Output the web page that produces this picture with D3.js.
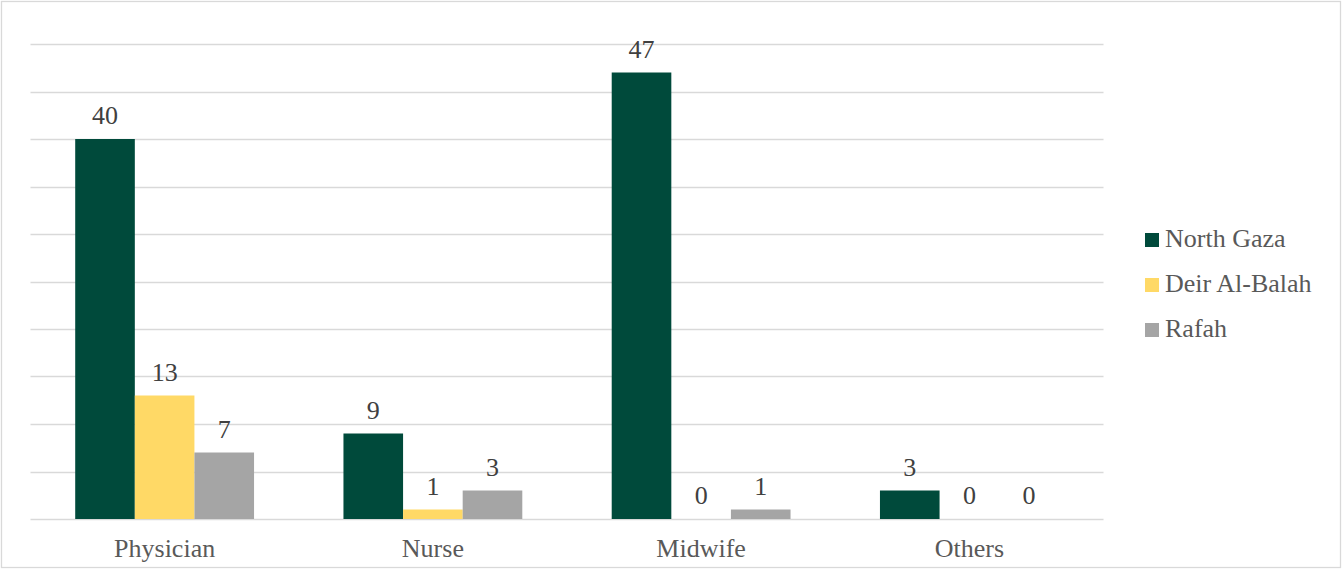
<!DOCTYPE html>
<html>
<head>
<meta charset="utf-8">
<script src="https://cdn.jsdelivr.net/npm/d3@7"></script>
<style>
  html, body { margin: 0; padding: 0; background: #fff; }
  svg { display: block; }
</style>
</head>
<body>
<svg id="chart" width="1342" height="570" font-family="Liberation Serif"></svg>
<script>
// Staff categories and counts per governorate
const categories = ["Physician", "Nurse", "Midwife", "Others"];
const seriesNames = ["North Gaza", "Deir Al-Balah", "Rafah"];
const northGaza = [40, 9, 47, 3];
const deirAlBalah = [13, 1, 0, 0];
const rafah = [7, 3, 1, 0];
const yTicks = [0, 5, 10, 15, 20, 25, 30, 35, 40, 45, 50];
const colors = ["#004A3B", "#FFD966", "#A5A5A5"];

const seriesValues = [northGaza, deirAlBalah, rafah];

const svg = d3.select("#chart");
const W = 1342, H = 570;

// Outer chart frame
svg.append("rect")
  .attr("x", 1.5).attr("y", 1.5)
  .attr("width", W - 3).attr("height", H - 4)
  .attr("fill", "#fff")
  .attr("stroke", "#d9d9d9").attr("stroke-width", 1.3);

const plot = { left: 30.5, right: 1103.5, top: 44, bottom: 519 };

const x0 = d3.scaleBand()
  .domain(categories)
  .range([plot.left, plot.right])
  .paddingInner(0).paddingOuter(0);

// Bars take 3/4.5 of each group (150% gap)
const groupW = x0.bandwidth();
const barW = groupW / 4.5;
const x1 = d3.scaleBand()
  .domain(seriesNames)
  .range([0.75 * barW, 3.75 * barW]);

const y = d3.scaleLinear().domain([0, 50]).range([plot.bottom, plot.top]);

// Horizontal gridlines
svg.append("g")
  .selectAll("line")
  .data(yTicks)
  .join("line")
  .attr("x1", plot.left).attr("x2", plot.right)
  .attr("y1", d => Math.round(y(d)) + 0.5)
  .attr("y2", d => Math.round(y(d)) + 0.5)
  .attr("stroke", "#d9d9d9").attr("stroke-width", 1.3);

// Bars
const groups = svg.append("g")
  .selectAll("g")
  .data(categories)
  .join("g")
  .attr("transform", d => `translate(${x0(d)},0)`);

const cells = groups.selectAll("g.cell")
  .data((c, i) => seriesNames.map((s, j) => ({ series: s, j, value: seriesValues[j][i] })))
  .join("g").attr("class", "cell");

cells.append("rect")
  .attr("x", d => x1(d.series))
  .attr("width", x1.bandwidth())
  .attr("y", d => y(d.value))
  .attr("height", d => y(0) - y(d.value))
  .attr("fill", d => colors[d.j]);

// Value labels
cells.append("text")
  .attr("x", d => x1(d.series) + x1.bandwidth() / 2)
  .attr("y", d => y(d.value) - 15)
  .attr("text-anchor", "middle")
  .attr("font-family", "Liberation Serif")
  .attr("font-size", 26)
  .attr("fill", "#404040")
  .text(d => d.value);

// Category axis labels
svg.append("g")
  .selectAll("text")
  .data(categories)
  .join("text")
  .attr("x", d => x0(d) + groupW / 2)
  .attr("y", 557)
  .attr("text-anchor", "middle")
  .attr("font-family", "Liberation Serif")
  .attr("font-size", 26)
  .attr("fill", "#595959")
  .text(d => d);

// Legend
const legend = svg.append("g")
  .selectAll("g")
  .data(seriesNames)
  .join("g")
  .attr("transform", (d, i) => `translate(1145, ${233 + i * 45})`);

legend.append("rect")
  .attr("width", 14).attr("height", 14)
  .attr("fill", (d, i) => colors[i]);

legend.append("text")
  .attr("x", 20).attr("y", 14)
  .attr("font-family", "Liberation Serif")
  .attr("font-size", 26)
  .attr("fill", "#595959")
  .text(d => d);
</script>
</body>
</html>
